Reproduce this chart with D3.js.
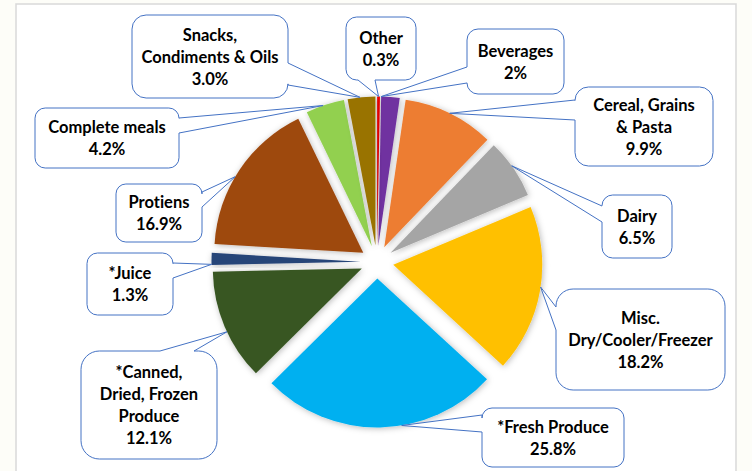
<!DOCTYPE html>
<html>
<head>
<meta charset="utf-8">
<script src="https://cdn.jsdelivr.net/npm/d3@7"></script>
<style>
  html, body { margin: 0; padding: 0; background: #fdfdf8; }
  svg { display: block; }
  text { font-family: Lato, "Open Sans", sans-serif; font-weight: 700; font-size: 16.5px; fill: #000;
    font-variant-ligatures: none; font-feature-settings: "liga" 0; }
</style>
</head>
<body>
<svg id="chart"></svg>
<script>
// Chart data, clockwise from 12 o'clock
var categories = ['Other', 'Beverages', 'Cereal, Grains & Pasta', 'Dairy',
  'Misc. Dry/Cooler/Freezer', '*Fresh Produce', '*Canned, Dried, Frozen Produce',
  '*Juice', 'Protiens', 'Complete meals', 'Snacks, Condiments & Oils']
var values = [0.3, 2, 9.9, 6.5, 18.2, 25.8, 12.1, 1.3, 16.9, 4.2, 3.0]
var valueLabels = ['0.3%', '2%', '9.9%', '6.5%', '18.2%', '25.8%', '12.1%', '1.3%', '16.9%', '4.2%', '3.0%']
// how each category name is broken inside its callout
var nameLines = [
  ['Other'], ['Beverages'], ['Cereal, Grains', '& Pasta'], ['Dairy'],
  ['Misc.', 'Dry/Cooler/Freezer'], ['*Fresh Produce'], ['*Canned,', 'Dried, Frozen', 'Produce'],
  ['*Juice'], ['Protiens'], ['Complete meals'], ['Snacks,', 'Condiments & Oils']
]
var colors = ['#ff0000', '#7030a0', '#ed7d31', '#a5a5a5', '#ffc000', '#00b0f0',
  '#385723', '#264478', '#9e480e', '#92d050', '#997300']

// Layout
var width = 752
var height = 471
var cx = 377
var cy = 262
var radius = 149
var explode = 16.5
var lineHeight = 22

// Callout boxes: x, y, w, h, side of the wedge, wedge base (two coords on that side), anchor position along the arc
var callouts = [
  { x: 346, y: 17, w: 70, h: 63, side: 'bottom', base: [358, 375], t: 0.5 },
  { x: 467, y: 29, w: 97, h: 65, side: 'left', base: [67, 83], t: 0.0 },
  { x: 575, y: 87, w: 138, h: 79, side: 'left', base: [100, 120], t: 0.5 },
  { x: 602, y: 195, w: 70, h: 63, side: 'left', base: [206, 222], t: 0.45 },
  { x: 556, y: 289, w: 169, h: 101, side: 'left', base: [307, 330], t: 0.48 },
  { x: 482, y: 408, w: 142, h: 59, side: 'left', base: [415, 432], t: 0.41 },
  { x: 81, y: 351, w: 136, h: 108, side: 'top', base: [160, 194], t: 0.45 },
  { x: 87, y: 253, w: 86, h: 62, side: 'right', base: [263, 278], t: 0.05 },
  { x: 116, y: 184, w: 86, h: 58, side: 'right', base: [192, 207], t: 0.45 },
  { x: 35, y: 108, w: 144, h: 60, side: 'right', base: [118, 133], t: 0.45 },
  { x: 132, y: 15, w: 156, h: 83, side: 'right', base: [63, 85], t: 0.45 }
]

var svg = d3.select('#chart').attr('width', width).attr('height', height)

// shadow filter for the slices
var defs = svg.append('defs')
var filter = defs.append('filter').attr('id', 'shadow')
  .attr('x', '-20%').attr('y', '-20%').attr('width', '140%').attr('height', '140%')
filter.append('feDropShadow')
  .attr('dx', 1).attr('dy', 1).attr('stdDeviation', 3)
  .attr('flood-color', '#000').attr('flood-opacity', 0.28)

// chart area frame
svg.append('rect')
  .attr('x', 16).attr('y', 4).attr('width', 720).attr('height', height + 10)
  .attr('fill', '#fff').attr('stroke', '#d9d9d9').attr('stroke-width', 1.5)

var pie = d3.pie().sort(null).value(function (d) { return d })
var arcs = pie(values)
var arc = d3.arc().innerRadius(0).outerRadius(radius)

function sliceOffset (d) {
  var mid = (d.startAngle + d.endAngle) / 2
  return [Math.sin(mid) * explode, -Math.cos(mid) * explode]
}

var slices = svg.append('g').attr('transform', 'translate(' + cx + ',' + cy + ')')
slices.selectAll('path')
  .data(arcs)
  .enter().append('path')
  .attr('d', arc)
  .attr('fill', function (d, i) { return colors[i] })
  .attr('filter', 'url(#shadow)')
  .attr('transform', function (d) {
    var o = sliceOffset(d)
    return 'translate(' + o[0] + ',' + o[1] + ')'
  })

// Rounded rectangle with a wedge going out to (ax, ay), drawn clockwise
function calloutPath (c, ax, ay) {
  var x = c.x, y = c.y, w = c.w, h = c.h
  var r = Math.min(w, h) * 0.17
  var p = d3.path()
  var b = c.base
  p.moveTo(x + r, y)
  if (c.side === 'top') {
    p.lineTo(Math.min(b[0], b[1]), y); p.lineTo(ax, ay); p.lineTo(Math.max(b[0], b[1]), y)
  }
  p.lineTo(x + w - r, y)
  p.arcTo(x + w, y, x + w, y + r, r)
  if (c.side === 'right') {
    p.lineTo(x + w, Math.min(b[0], b[1])); p.lineTo(ax, ay); p.lineTo(x + w, Math.max(b[0], b[1]))
  }
  p.lineTo(x + w, y + h - r)
  p.arcTo(x + w, y + h, x + w - r, y + h, r)
  if (c.side === 'bottom') {
    p.lineTo(Math.max(b[0], b[1]), y + h); p.lineTo(ax, ay); p.lineTo(Math.min(b[0], b[1]), y + h)
  }
  p.lineTo(x + r, y + h)
  p.arcTo(x, y + h, x, y + h - r, r)
  if (c.side === 'left') {
    p.lineTo(x, Math.max(b[0], b[1])); p.lineTo(ax, ay); p.lineTo(x, Math.min(b[0], b[1]))
  }
  p.lineTo(x, y + r)
  p.arcTo(x, y, x + r, y, r)
  p.closePath()
  return p.toString()
}

var labels = svg.append('g')
arcs.forEach(function (d, i) {
  var c = callouts[i]
  var o = sliceOffset(d)
  var a = d.startAngle + c.t * (d.endAngle - d.startAngle)
  var ax = cx + o[0] + Math.sin(a) * radius
  var ay = cy + o[1] - Math.cos(a) * radius

  labels.append('path')
    .attr('d', calloutPath(c, ax, ay))
    .attr('fill', '#fff')
    .attr('stroke', '#4472c4')
    .attr('stroke-width', 1)

  var lines = nameLines[i].concat([valueLabels[i]])
  var top = c.y + c.h / 2 - (lines.length - 1) * lineHeight / 2
  var txt = labels.append('text')
    .attr('text-anchor', 'middle')
    .attr('dominant-baseline', 'central')
  lines.forEach(function (line, k) {
    txt.append('tspan')
      .attr('x', c.x + c.w / 2)
      .attr('y', top + k * lineHeight)
      .text(line)
  })
})
</script>
</body>
</html>
